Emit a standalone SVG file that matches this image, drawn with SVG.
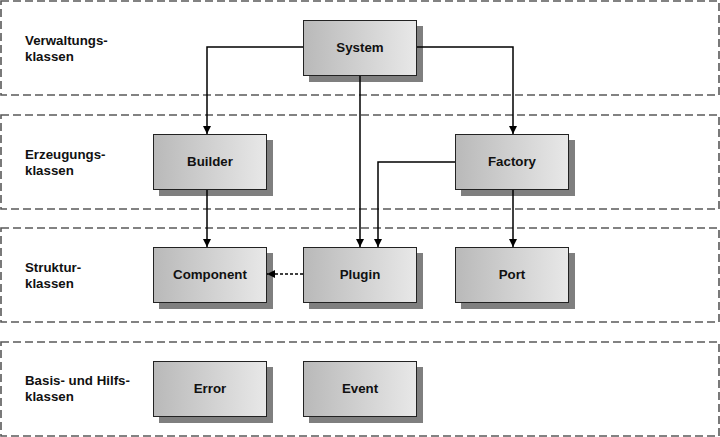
<svg xmlns="http://www.w3.org/2000/svg" width="720" height="437" viewBox="0 0 720 437">
<style>
.lane{fill:none;stroke:#595959;stroke-width:1.6;stroke-dasharray:8 4}
.lbl{font-family:"Liberation Sans",Arial,sans-serif;font-size:13.3px;font-weight:bold;fill:#111}
.box{fill:url(#g);stroke:#222;stroke-width:1}
.sh{fill:#7f7f7f}
.nt{font-family:"Liberation Sans",Arial,sans-serif;font-size:13.3px;font-weight:bold;fill:#111;text-anchor:middle}
.c{fill:none;stroke:#000;stroke-width:1.5}
.d{fill:none;stroke:#000;stroke-width:1.5;stroke-dasharray:3 2}
</style>
<defs>
<linearGradient id="g" x1="0" y1="0" x2="1" y2="0">
<stop offset="0" stop-color="#b9b9b9"/>
<stop offset="1" stop-color="#e8e8e8"/>
</linearGradient>
<marker id="a" markerWidth="8" markerHeight="8" viewBox="0 0 10 10" refX="10" refY="5" orient="auto" markerUnits="userSpaceOnUse">
<path d="M0,0 L10,5 L0,10 Z" fill="#000"/>
</marker>
</defs>
<g id="lanes">
<rect class="lane" x="1" y="1" width="718" height="94"/>
<rect class="lane" x="1" y="115" width="718" height="94"/>
<rect class="lane" x="1" y="228" width="718" height="94"/>
<rect class="lane" x="1" y="342" width="718" height="94"/>
<text class="lbl" x="25" y="45">Verwaltungs-</text>
<text class="lbl" x="25" y="61">klassen</text>
<text class="lbl" x="25" y="159">Erzeugungs-</text>
<text class="lbl" x="25" y="175">klassen</text>
<text class="lbl" x="25" y="272">Struktur-</text>
<text class="lbl" x="25" y="288">klassen</text>
<text class="lbl" x="25" y="385">Basis- und Hilfs-</text>
<text class="lbl" x="25" y="401">klassen</text>
</g>
<g id="System"><rect class="sh" x="309" y="26" width="114" height="56"/><rect class="box" x="303.5" y="20.5" width="113" height="55"/><text class="nt" x="360" y="52">System</text></g>
<g id="Builder"><rect class="sh" x="159" y="140" width="114" height="56"/><rect class="box" x="153.5" y="134.5" width="113" height="55"/><text class="nt" x="210" y="166">Builder</text></g>
<g id="Factory"><rect class="sh" x="461" y="140" width="114" height="56"/><rect class="box" x="455.5" y="134.5" width="113" height="55"/><text class="nt" x="512" y="166">Factory</text></g>
<g id="Component"><rect class="sh" x="159" y="253" width="114" height="56"/><rect class="box" x="153.5" y="247.5" width="113" height="55"/><text class="nt" x="210" y="279">Component</text></g>
<g id="Plugin"><rect class="sh" x="309" y="253" width="114" height="56"/><rect class="box" x="303.5" y="247.5" width="113" height="55"/><text class="nt" x="360" y="279">Plugin</text></g>
<g id="Port"><rect class="sh" x="461" y="253" width="114" height="56"/><rect class="box" x="455.5" y="247.5" width="113" height="55"/><text class="nt" x="512" y="279">Port</text></g>
<g id="Error"><rect class="sh" x="159" y="367" width="114" height="56"/><rect class="box" x="153.5" y="361.5" width="113" height="55"/><text class="nt" x="210" y="393">Error</text></g>
<g id="Event"><rect class="sh" x="309" y="367" width="114" height="56"/><rect class="box" x="303.5" y="361.5" width="113" height="55"/><text class="nt" x="360" y="393">Event</text></g>
<g id="connectors">
<path class="c" d="M303,47 H207 V134" marker-end="url(#a)"/>
<path class="c" d="M417,47 H513 V134" marker-end="url(#a)"/>
<path class="c" d="M360,76 V247" marker-end="url(#a)"/>
<path class="c" d="M455,162 H378 V247" marker-end="url(#a)"/>
<path class="c" d="M207,190 V247" marker-end="url(#a)"/>
<path class="c" d="M513,190 V247" marker-end="url(#a)"/>
<path class="d" d="M303,274 H267" marker-end="url(#a)"/>
</g>
</svg>
